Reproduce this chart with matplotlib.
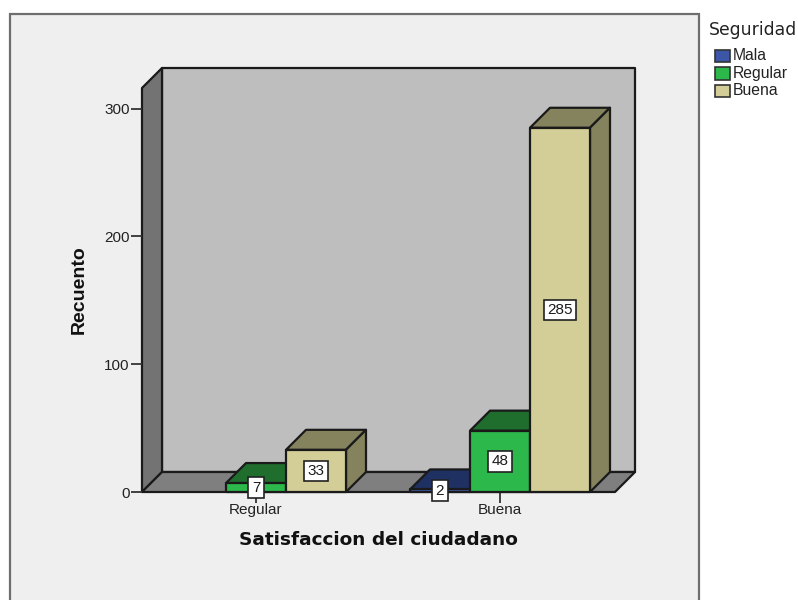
import matplotlib
matplotlib.use("Agg")
import matplotlib.pyplot as plt
from matplotlib.patches import Polygon, Rectangle

plt.rcParams["font.family"] = ["Liberation Sans", "DejaVu Sans"]

categories = ["Regular", "Buena"]
series_names = ["Mala", "Regular", "Buena"]
mala = [0, 2]
regular = [7, 48]
buena = [33, 285]
y_ticks = [0, 100, 200, 300]

front_colors = ["#3D57A8", "#2DB84B", "#D3CE97"]
top_colors = ["#1F3163", "#1F6E2E", "#85825E"]
side_colors = ["#1F3163", "#1F6E2E", "#85825E"]
EDGE = "#1A1A1A"

W, H = 798, 600
fig = plt.figure(figsize=(W / 100, H / 100), dpi=100, facecolor="white")

# outer chart frame, runs off the bottom of the image
frame = Rectangle((9.5 / W, -0.02), 689 / W, 1.02 - 13.5 / H, transform=fig.transFigure,
                  facecolor="#EFEFEF", edgecolor="#6E6E6E", linewidth=1.6, zorder=-1)
fig.add_artist(frame)

# axes box is the front plane of the 3D plot
left, right, bottom, top = 142, 615, 492, 88
ax = fig.add_axes([left / W, 1 - bottom / H, (right - left) / W, (bottom - top) / H])
ax.patch.set_visible(False)
for s in ax.spines.values():
    s.set_visible(False)

px_x = 244.0   # pixels per category
px_y = 1.278   # pixels per count
ax.set_xlim((left - 256) / px_x, (right - 256) / px_x)
ax.set_ylim(0, (bottom - top) / px_y)

dx = 20 / px_x
dy = 20 / px_y
x0, x1 = ax.get_xlim()
y0, y1 = ax.get_ylim()


def poly(pts, fc, z, lw=1.6):
    ax.add_patch(Polygon(pts, closed=True, facecolor=fc, edgecolor=EDGE, linewidth=lw,
                         joinstyle="round", clip_on=False, zorder=z))


# walls and floor
poly([(x0 + dx, y0 + dy), (x1 + dx, y0 + dy), (x1 + dx, y1 + dy), (x0 + dx, y1 + dy)], "#BEBEBE", 1)
poly([(x0, y0), (x0 + dx, y0 + dy), (x0 + dx, y1 + dy), (x0, y1)], "#737373", 1.1)
poly([(x0, y0), (x1, y0), (x1 + dx, y0 + dy), (x0 + dx, y0 + dy)], "#7F7F7F", 1.2)

bar_w = 60 / px_x
z = 2
for i, cat in enumerate(categories):
    for j, vals in enumerate([mala, regular, buena]):
        v = vals[i]
        if v == 0:
            continue
        xa = i + (j - 1) * bar_w - bar_w / 2
        xb = xa + bar_w
        poly([(xa, v), (xb, v), (xb + dx, v + dy), (xa + dx, v + dy)], top_colors[j], z)
        poly([(xb, 0), (xb + dx, dy), (xb + dx, v + dy), (xb, v)], side_colors[j], z + 0.1)
        poly([(xa, 0), (xb, 0), (xb, v), (xa, v)], front_colors[j], z + 0.2)
        z += 1

# value labels on top of everything
for i, cat in enumerate(categories):
    for j, vals in enumerate([mala, regular, buena]):
        v = vals[i]
        if v == 0:
            continue
        ax.text(i + (j - 1) * bar_w, v / 2, str(v), ha="center", va="center", fontsize=11,
                color="#1A1A1A", zorder=20, clip_on=False,
                bbox=dict(boxstyle="square,pad=0.22", facecolor="white", edgecolor="#222222", linewidth=1.2))

ax.set_xticks(range(len(categories)))
ax.set_xticklabels(categories, fontsize=11, color="#222222")
ax.set_yticks(y_ticks)
ax.set_yticklabels([str(t) for t in y_ticks], fontsize=11, color="#222222")
ax.tick_params(axis="x", length=8, width=1.3, color="#333333", pad=0)
ax.tick_params(axis="y", length=8, width=1.3, color="#333333", pad=1)

fig.text(79 / W, 1 - 290 / H, "Recuento", rotation=90, ha="center", va="center",
         fontsize=14, fontweight="bold", color="#111111")
fig.text(378 / W, 1 - 540 / H, "Satisfaccion del ciudadano", ha="center", va="center",
         fontsize=13.3, fontweight="bold", color="#111111", family="DejaVu Sans")

# legend
fig.text(709 / W, 1 - 30 / H, "Seguridad", ha="left", va="center", fontsize=12.4, color="#222222",
         family="DejaVu Sans")
for j, name in enumerate(series_names):
    yc = 56 + j * 17.5
    fig.add_artist(Rectangle((715 / W, 1 - (yc + 6) / H), 15 / W, 12 / H, transform=fig.transFigure,
                             facecolor=front_colors[j], edgecolor="#333333", linewidth=1.2))
    fig.text(733 / W, 1 - yc / H, name, ha="left", va="center", fontsize=11.3, color="#222222")

fig.savefig("out.png", dpi=100)
